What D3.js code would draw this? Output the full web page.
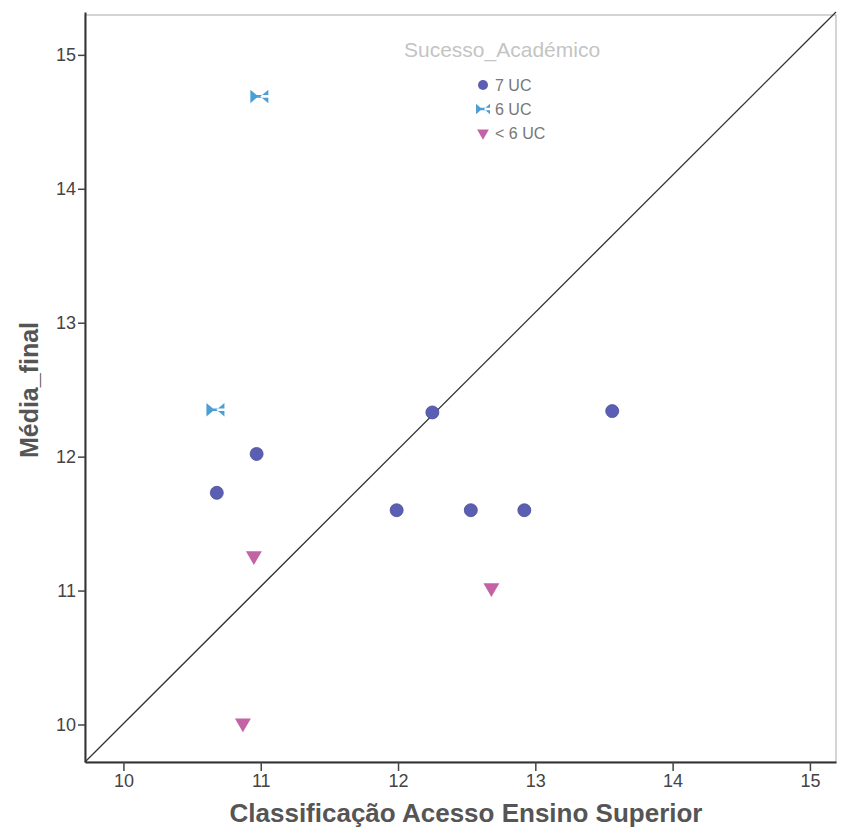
<!DOCTYPE html>
<html lang="en">
<head>
    <meta charset="UTF-8">
    <title> Scatter </title>
    <script src="https://cdn.jsdelivr.net/npm/d3@7/dist/d3.min.js"></script>
    <style>
        body { margin: 0; background: #fff; }
        text { font-family: "Liberation Sans", Arial, sans-serif; }
    </style>
</head>
<body>
<svg width="841" height="839"></svg>
<script>
    // classificacao acesso (x), media final (y)
    let uc7x = [10.68, 10.97, 12.25, 11.99, 12.53, 12.92, 13.56]
    let uc7y = [11.73, 12.02, 12.33, 11.60, 11.60, 11.60, 12.34]
    let uc6x = [10.99, 10.67]
    let uc6y = [14.69, 12.35]
    let ucLx = [10.95, 12.68, 10.87]
    let ucLy = [11.26, 11.02, 10.01]
    let groups = ['7 UC', '6 UC', '< 6 UC']
    let xTicks = [10, 11, 12, 13, 14, 15]
    let yTicks = [10, 11, 12, 13, 14, 15]

    let colors = ['#5b5fb3', '#4b9fd6', '#c462a6']

    let svg = d3.select('svg');
    let mLeft = 85, mRight = 836, mTop = 12, mBottom = 762;

    let xDom = [9.72, 15.19], yDom = [9.72, 15.32]
    let scaleX = d3.scaleLinear().domain(xDom).range([mLeft, mRight])
    let scaleY = d3.scaleLinear().domain(yDom).range([mBottom, mTop])

    // frame
    svg.append('rect')
        .attr('x', mLeft).attr('y', mTop + 3)
        .attr('width', mRight - mLeft).attr('height', mBottom - mTop - 3)
        .attr('fill', 'none').attr('stroke', '#aaa').attr('stroke-width', 1)

    // reference line, corner to corner
    svg.append('line')
        .attr('x1', scaleX(xDom[0])).attr('y1', scaleY(yDom[0]))
        .attr('x2', scaleX(xDom[1])).attr('y2', scaleY(yDom[1]))
        .attr('stroke', '#333').attr('stroke-width', 1.3)

    let xAxis = svg.append('g')
        .attr('transform', 'translate(0,' + mBottom + ')')
        .call(d3.axisBottom(scaleX).tickValues(xTicks).tickFormat(d3.format('d'))
            .tickSize(9).tickPadding(3).tickSizeOuter(0))
    let yAxis = svg.append('g')
        .attr('transform', 'translate(' + mLeft + ',0)')
        .call(d3.axisLeft(scaleY).tickValues(yTicks).tickFormat(d3.format('d'))
            .tickSize(7).tickPadding(2).tickSizeOuter(0))

    ;[xAxis, yAxis].forEach(function (a) {
        a.select('.domain').attr('stroke', '#333').attr('stroke-width', 2)
        a.selectAll('.tick line').attr('stroke', '#444').attr('stroke-width', 1.5)
        a.selectAll('.tick text').attr('fill', '#444').style('font-size', '18px')
    })

    function bowtie(x, y, s) {
        let h = s * 0.75
        return 'M' + (x - s) + ',' + (y - h) + 'L' + (x - 1) + ',' + y + 'L' + (x - s) + ',' + (y + h) + 'Z' +
            'M' + (x + s) + ',' + (y - h) + 'L' + (x + 1) + ',' + y + 'L' + (x + s) + ',' + (y + h) + 'Z' +
            'M' + (x - s) + ',' + (y - 1.3) + 'L' + (x + s) + ',' + (y - 1.3) + 'L' + (x + s) + ',' + (y + 1.3) + 'L' + (x - s) + ',' + (y + 1.3) + 'Z'
    }

    // 7 UC
    svg.append('g').selectAll('circle')
        .data(d3.zip(uc7x, uc7y))
        .enter().append('circle')
        .attr('cx', d => scaleX(d[0]))
        .attr('cy', d => scaleY(d[1]))
        .attr('r', 6.5)
        .attr('fill', colors[0])
        .attr('stroke', '#4a4e9a').attr('stroke-width', 0.8)

    // 6 UC
    svg.append('g').selectAll('path')
        .data(d3.zip(uc6x, uc6y))
        .enter().append('path')
        .attr('d', d => bowtie(scaleX(d[0]), scaleY(d[1]), 9))
        .attr('fill', colors[1])

    // < 6 UC
    svg.append('g').selectAll('path')
        .data(d3.zip(ucLx, ucLy))
        .enter().append('path')
        .attr('d', d3.symbol().type(d3.symbolTriangle).size(110))
        .attr('transform', d => 'translate(' + scaleX(d[0]) + ',' + scaleY(d[1]) + ') rotate(180)')
        .attr('fill', colors[2])

    // legend
    svg.append('text')
        .attr('x', 404).attr('y', 57)
        .attr('fill', '#c4c4c4')
        .style('font-size', '21px')
        .text('Sucesso_Académico')

    let leg = svg.append('g').attr('transform', 'translate(483,85)')
    groups.forEach(function (g, i) {
        let y = i * 24
        if (i === 0) {
            leg.append('circle').attr('cx', 0).attr('cy', y).attr('r', 5).attr('fill', colors[0])
        } else if (i === 1) {
            leg.append('path').attr('d', bowtie(0, y, 7)).attr('fill', colors[1])
        } else {
            leg.append('path')
                .attr('d', d3.symbol().type(d3.symbolTriangle).size(60))
                .attr('transform', 'translate(0,' + y + ') rotate(180)')
                .attr('fill', colors[2])
        }
        leg.append('text')
            .attr('x', 12).attr('y', y + 6)
            .attr('fill', '#777')
            .style('font-size', '16px')
            .text(g)
    })

    // axis titles
    svg.append('text')
        .attr('x', 466).attr('y', 822)
        .attr('text-anchor', 'middle')
        .attr('fill', '#555')
        .style('font-size', '26px').style('font-weight', 'bold')
        .text('Classificação Acesso Ensino Superior')

    svg.append('text')
        .attr('transform', 'translate(38,390) rotate(-90)')
        .attr('text-anchor', 'middle')
        .attr('fill', '#555')
        .style('font-size', '25px').style('font-weight', 'bold')
        .text('Média_final')
</script>
</body>
</html>
